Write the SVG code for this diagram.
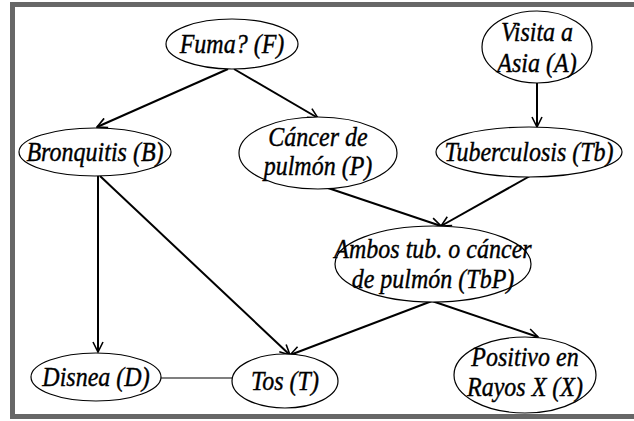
<svg xmlns="http://www.w3.org/2000/svg" width="634" height="421" viewBox="0 0 634 421">
  <style>
    .node ellipse { fill: #ffffff; stroke: #000000; stroke-width: 1.2; }
    .node text { font-size: 24px; fill: #000000; stroke: #000000; stroke-width: 0.35; text-anchor: middle; }
    .edge { stroke: #000000; stroke-width: 2; fill: none; marker-end: url(#arrow); }
    .plain { stroke: #000000; stroke-width: 1.2; fill: none; }
  </style>
  <defs>
    <marker id="arrow" viewBox="0 0 12 12" refX="11" refY="6" markerWidth="12" markerHeight="12" markerUnits="userSpaceOnUse" orient="auto">
      <path d="M1,1 L11,6 L1,11" fill="none" stroke="#000000" stroke-width="1.6"/>
    </marker>
  </defs>

  <!-- frame -->
  <rect x="0" y="0" width="634" height="421" fill="#ffffff"/>
  <rect x="12.5" y="4.5" width="640" height="412" fill="#ffffff" stroke="#676767" stroke-width="5"/>

  <!-- connectors -->
  <g id="connectors">
    <line class="edge" x1="228" y1="69" x2="97" y2="127"/>
    <line class="edge" x1="234" y1="69" x2="318" y2="118"/>
    <line class="edge" x1="537" y1="83" x2="537" y2="127"/>
    <line class="edge" x1="328" y1="188" x2="441" y2="226"/>
    <line class="edge" x1="530" y1="176" x2="441" y2="226"/>
    <line class="edge" x1="98" y1="176" x2="98" y2="352"/>
    <line class="edge" x1="100" y1="176" x2="290" y2="355"/>
    <line class="edge" x1="432" y1="301" x2="290" y2="355"/>
    <line class="edge" x1="432" y1="301" x2="538" y2="337"/>
    <line class="plain" x1="161" y1="378" x2="232" y2="378"/>
  </g>

  <!-- nodes: italic serif labels, drawn slightly tall -->
  <g id="nodes" font-family="Liberation Serif, serif" font-style="italic">
    <g id="F" class="node">
      <ellipse cx="232" cy="44" rx="66" ry="25"/>
      <text transform="translate(232,53) scale(1,1.15)">Fuma? (F)</text>
    </g>
    <g id="A" class="node">
      <ellipse cx="537" cy="47" rx="55" ry="36"/>
      <text transform="translate(537,41) scale(1,1.15)">Visita a</text>
      <text transform="translate(537,72) scale(1,1.15)">Asia (A)</text>
    </g>
    <g id="B" class="node">
      <ellipse cx="95" cy="152" rx="76" ry="24"/>
      <text transform="translate(95,161) scale(1,1.15)">Bronquitis (B)</text>
    </g>
    <g id="P" class="node">
      <ellipse cx="318" cy="153" rx="79" ry="36"/>
      <text transform="translate(318,146) scale(1,1.15)">Cáncer de</text>
      <text transform="translate(318,175) scale(1,1.15)">pulmón (P)</text>
    </g>
    <g id="Tb" class="node">
      <ellipse cx="529" cy="152" rx="93" ry="25"/>
      <text transform="translate(529,161) scale(1,1.15)">Tuberculosis (Tb)</text>
    </g>
    <g id="TbP" class="node">
      <ellipse cx="433" cy="264" rx="98" ry="38"/>
      <text transform="translate(433,258) scale(1,1.15)">Ambos tub. o cáncer</text>
      <text transform="translate(433,288) scale(1,1.15)">de pulmón (TbP)</text>
    </g>
    <g id="D" class="node">
      <ellipse cx="96" cy="377" rx="65" ry="24"/>
      <text transform="translate(96,386) scale(1,1.15)">Disnea (D)</text>
    </g>
    <g id="T" class="node">
      <ellipse cx="285" cy="381" rx="53" ry="27"/>
      <text transform="translate(285,390) scale(1,1.15)">Tos (T)</text>
    </g>
    <g id="X" class="node">
      <ellipse cx="525" cy="375" rx="71" ry="38"/>
      <text transform="translate(525,366) scale(1,1.15)">Positivo en</text>
      <text transform="translate(525,396) scale(1,1.15)">Rayos X (X)</text>
    </g>
  </g>
</svg>
